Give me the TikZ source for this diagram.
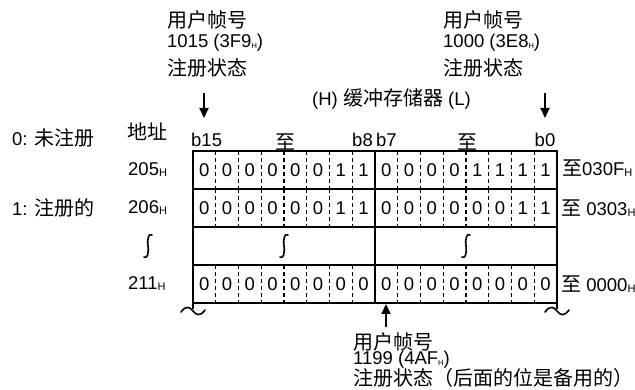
\documentclass[tikz,border=0pt]{standalone}
\usepackage{fontspec}
\setmainfont{Liberation Sans}
\newfontfamily\cjk{Noto Sans CJK SC}
\usetikzlibrary{arrows.meta}
\newcommand\zh[1]{{\cjk\fontsize{20}{22}\selectfont #1}}
\newcommand\sH{\raisebox{-0.5pt}{\fontsize{7.5}{7.5}\selectfont H}}
\newcommand\bH{\raisebox{-1pt}{\fontsize{11}{11}\selectfont H}}
\begin{document}
\begin{tikzpicture}[x=1pt,y=-1pt,
  every node/.style={inner sep=0pt, font=\fontsize{18.5}{20}\selectfont},
  lbl/.style={anchor=west},
  arr/.style={line width=1.8pt,-{Triangle[length=10pt,width=9pt]}},
  frame/.style={line width=1.5pt},
  dashsep/.style={line width=1.2pt, dash pattern=on 4.5pt off 2.5pt},
  wave/.style={line width=1.6pt, line cap=round}]
\useasboundingbox (0,0) rectangle (635,390);

% top labels
\node[lbl] (tl1) at (167,20) {\zh{用户帧号}};
\node[lbl] (tl2) at (167,43) {1015 (3F9\sH)};
\node[lbl] (tl3) at (167,68) {\zh{注册状态}};
\node[lbl] (tr1) at (443,20) {\zh{用户帧号}};
\node[lbl] (tr2) at (443,43) {1000 (3E8\sH)};
\node[lbl] (tr3) at (443,68) {\zh{注册状态}};
\node[lbl] (buf) at (312,99) {(H) \zh{缓冲存储器} (L)};

% left legend
\node[lbl] (l0) at (12,138) {0: \zh{未注册}};
\node[lbl] (l1) at (12,208) {1: \zh{注册的}};
\node[lbl] (addr) at (127,132) {\zh{地址}};

% bit headers
\node[lbl] (b15) at (191,140) {b15};
\node (to1) at (285,142) {\zh{至}};
\node[anchor=east] (b8) at (373,140) {b8};
\node[lbl] (b7) at (376,140) {b7};
\node (to2) at (467,142) {\zh{至}};
\node (b0) at (545,140) {b0};

% addresses
\node[lbl] (a205) at (128,170) {205\bH};
\node[lbl] (a206) at (128,208) {206\bH};
\node[lbl] (a211) at (128,284) {211\bH};

% right values
\node[lbl] (v1) at (562,168) {\zh{至}030F\bH};
\node[lbl] (v2) at (561,208) {\zh{至} 0303\bH};
\node[lbl] (v3) at (561,284) {\zh{至} 0000\bH};

% digits
\foreach \r/\yy/\bits in {1/170/{0,0,0,0,0,0,1,1,0,0,0,0,1,1,1,1},
                          2/208/{0,0,0,0,0,0,1,1,0,0,0,0,0,0,1,1},
                          3/284/{0,0,0,0,0,0,0,0,0,0,0,0,0,0,0,0}}{
  \foreach \b [count=\i from 0] in \bits {
    \node (d\r-\i) at ({193+22.75*(\i+0.5)},\yy) {\b};
  }
}

% dashed separators
\foreach \y in {151,189,265}{
  \foreach \i in {1,...,7,9,10,...,15}{
    \draw[dashsep] ({193+22.75*\i},\y) -- ({193+22.75*\i},\y+38);
  }
}

% frame
\draw[frame] (193,309) -- (193,151) -- (557,151) -- (557,309);
\foreach \y in {189,227,265,303}{
  \draw[frame] (193,\y) -- (557,\y);
}
\draw[frame] (375,151) -- (375,303);

% wavy breaks
\foreach \x/\y in {148/246,284/246,466/246}{
  \draw[wave] (\x+4,\y-11) .. controls (\x+1,\y-13) and (\x-1,\y-8) .. (\x,\y)
              .. controls (\x+1,\y+8) and (\x-1,\y+13) .. (\x-4,\y+11);
}
\foreach \x in {193,557}{
  \draw[wave] (\x-12,312) .. controls (\x-7,305) and (\x-3,307) .. (\x,311)
              .. controls (\x+3,315) and (\x+7,317) .. (\x+12,310);
}

% arrows
\coordinate (p1s) at (204,93);
\coordinate (p1e) at (204,118);
\coordinate (p2s) at (545,93);
\coordinate (p2e) at (545,118);
\coordinate (p3s) at (386,327);
\coordinate (p3e) at (386,304);
\draw[arr] (p1s) -- (p1e);
\draw[arr] (p2s) -- (p2e);
\draw[arr] (p3s) -- (p3e);

% bottom labels
\node[lbl] (bl1) at (353,342) {\zh{用户帧号}};
\node[lbl] (bl2) at (353,360) {1199 (4AF\sH)};
\node[lbl] (bl3) at (353,378) {\zh{注册状态（后面的位是备用的）}};
\end{tikzpicture}
\end{document}
